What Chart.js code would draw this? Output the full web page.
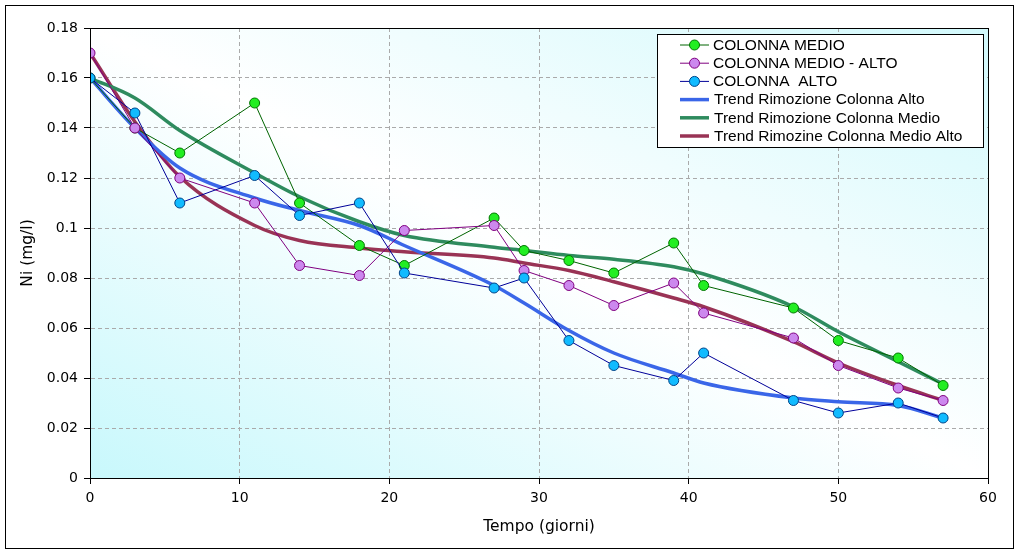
<!DOCTYPE html>
<html>
<head>
<meta charset="utf-8">
<script src="https://cdn.jsdelivr.net/npm/chart.js@4/dist/chart.umd.min.js"></script>
<style>
  html, body { margin: 0; padding: 0; background: #fff; }
  #wrap { width: 1020px; height: 553px; }
</style>
</head>
<body>
<div id="wrap"><canvas id="chart" width="1020" height="553"></canvas></div>
<script>
// giorni di campionamento
const giorni = [0, 3, 6, 11, 14, 18, 21, 27, 29, 32, 35, 39, 41, 47, 50, 54, 57];

// misure Ni (mg/l)
const colonnaMedio     = [0.160, 0.140, 0.130, 0.150, 0.110, 0.093, 0.085, 0.104, 0.091, 0.087, 0.082, 0.094, 0.077, 0.068, 0.055, 0.048, 0.037];
const colonnaMedioAlto = [0.170, 0.140, 0.120, 0.110, 0.085, 0.081, 0.099, 0.101, 0.083, 0.077, 0.069, 0.078, 0.066, 0.056, 0.045, 0.036, 0.031];
const colonnaAlto      = [0.160, 0.146, 0.110, 0.121, 0.105, 0.110, 0.082, 0.076, 0.080, 0.055, 0.045, 0.039, 0.050, 0.031, 0.026, 0.030, 0.024];

// curve di tendenza
const trendAlto      = [0.160, 0.140, 0.124, 0.112, 0.107, 0.101, 0.093, 0.077, 0.070, 0.059, 0.050, 0.042, 0.038, 0.032, 0.0305, 0.029, 0.024];
const trendMedio     = [0.160, 0.152, 0.139, 0.122, 0.1125, 0.1025, 0.097, 0.0923, 0.091, 0.089, 0.0875, 0.0845, 0.0816, 0.0685, 0.0585, 0.0465, 0.0376];
const trendMedioAlto = [0.170, 0.1425, 0.1205, 0.101, 0.095, 0.092, 0.0905, 0.088, 0.086, 0.083, 0.0785, 0.072, 0.0685, 0.0545, 0.046, 0.037, 0.031];

const xTicks = [0, 10, 20, 30, 40, 50, 60];
const yTicks = [0, 0.02, 0.04, 0.06, 0.08, 0.1, 0.12, 0.14, 0.16, 0.18];

const pts = (ys) => giorni.map((g, i) => ({ x: g, y: ys[i] }));

// order: numero più basso = disegnato sopra
const serie = (label, ys, line, fill, border, order) => ({
  label, data: pts(ys), showLine: true, order,
  borderColor: line, borderWidth: 1,
  pointRadius: 5, pointHoverRadius: 5,
  pointBackgroundColor: fill, pointBorderColor: border, pointBorderWidth: 1
});
const trend = (label, ys, color) => ({
  label, data: pts(ys), showLine: true, order: 5,
  borderColor: color, borderWidth: 3.5, pointRadius: 0,
  cubicInterpolationMode: 'monotone'
});

const datasets = [
  serie('COLONNA MEDIO', colonnaMedio, '#006400', '#22ee22', '#007700', 3),
  serie('COLONNA MEDIO - ALTO', colonnaMedioAlto, '#800080', '#cc88ee', '#800080', 2),
  serie('COLONNA  ALTO', colonnaAlto, '#000099', '#11bbff', '#004488', 1),
  trend('Trend Rimozione Colonna Alto', trendAlto, '#3a66e8'),
  trend('Trend Rimozione Colonna Medio', trendMedio, '#2e8b5e'),
  trend('Trend Rimozine Colonna Medio Alto', trendMedioAlto, '#993355')
];

// sfondo sfumato area del grafico (diagonale: ciano in basso a sx e in alto a dx)
const sfondo = {
  id: 'sfondo',
  beforeDraw(chart) {
    const { ctx, chartArea: a } = chart;
    ctx.save();
    ctx.translate(a.left, a.top);
    ctx.scale(a.right - a.left, a.bottom - a.top);
    const g = ctx.createLinearGradient(0, 1, 1, 0);
    g.addColorStop(0, '#c8f8fc');
    g.addColorStop(0.5, '#ffffff');
    g.addColorStop(1, '#d2f9fc');
    ctx.fillStyle = g;
    ctx.fillRect(0, 0, 1, 1);
    ctx.restore();
  }
};

// cornici + legenda
const cornice = {
  id: 'cornice',
  afterDraw(chart) {
    const { ctx, chartArea: a } = chart;
    ctx.save();
    ctx.strokeStyle = '#000';
    ctx.lineWidth = 1;
    ctx.strokeRect(Math.round(a.left) + 0.5, Math.round(a.top) + 0.5, Math.round(a.right - a.left), Math.round(a.bottom - a.top));
    ctx.strokeRect(5.5, 5.5, 1008, 543);

    // legenda
    const lx = 657, ly = 34, lw = 326, lh = 113;
    ctx.fillStyle = '#fff';
    ctx.fillRect(lx, ly, lw, lh);
    ctx.strokeRect(lx + 0.5, ly + 0.5, lw, lh);
    ctx.font = '15.5px "Liberation Sans", Arial, sans-serif';
    ctx.textBaseline = 'middle';
    chart.data.datasets.forEach((ds, i) => {
      const y = ly + 11 + i * 18.2;
      ctx.strokeStyle = ds.borderColor;
      ctx.lineWidth = ds.pointRadius ? 1 : 3.5;
      ctx.beginPath();
      ctx.moveTo(680, y);
      ctx.lineTo(709, y);
      ctx.stroke();
      if (ds.pointRadius) {
        ctx.beginPath();
        ctx.arc(694.5, y, 5, 0, Math.PI * 2);
        ctx.fillStyle = ds.pointBackgroundColor;
        ctx.fill();
        ctx.lineWidth = 1;
        ctx.strokeStyle = ds.pointBorderColor;
        ctx.stroke();
      }
      ctx.fillStyle = '#000';
      ctx.fillText(ds.label, ds.pointRadius ? 713 : 714, y + 0.5);
    });
    ctx.restore();
  }
};

const tickFont = { family: '"DejaVu Sans", Verdana, sans-serif', size: 14 };

new Chart(document.getElementById('chart'), {
  type: 'scatter',
  data: { datasets },
  plugins: [sfondo, cornice],
  options: {
    responsive: false,
    animation: false,
    events: [],
    layout: { padding: { left: 2, top: 28, right: 32, bottom: 5 } },
    plugins: { legend: { display: false }, tooltip: { enabled: false } },
    scales: {
      x: {
        type: 'linear', min: 0, max: 60,
        afterFit(s) { s.height = 70; },
        afterBuildTicks(s) { s.ticks = xTicks.map(v => ({ value: v })); },
        ticks: { color: '#000', font: tickFont, padding: 6, maxRotation: 0 },
        grid: { color: '#aaaaaa', tickColor: '#000', tickLength: 6 },
        border: { color: '#000', dash: [4, 3] },
        title: { display: true, text: 'Tempo (giorni)', color: '#000',
                 font: { family: '"DejaVu Sans", Verdana, sans-serif', size: 15.5 }, padding: { top: 0, bottom: 12 } }
      },
      y: {
        type: 'linear', min: 0, max: 0.18,
        afterFit(s) { s.width = 88; },
        afterBuildTicks(s) { s.ticks = yTicks.map(v => ({ value: v })); },
        ticks: { color: '#000', font: tickFont, padding: 6, callback: v => String(+v.toFixed(2)) },
        grid: { color: '#aaaaaa', tickColor: '#000', tickLength: 6 },
        border: { color: '#000', dash: [4, 3] },
        title: { display: true, text: 'Ni (mg/l)', color: '#000',
                 font: { family: '"DejaVu Sans", Verdana, sans-serif', size: 15.5 }, padding: { top: 17, bottom: 0 } }
      }
    }
  }
});
</script>
</body>
</html>
